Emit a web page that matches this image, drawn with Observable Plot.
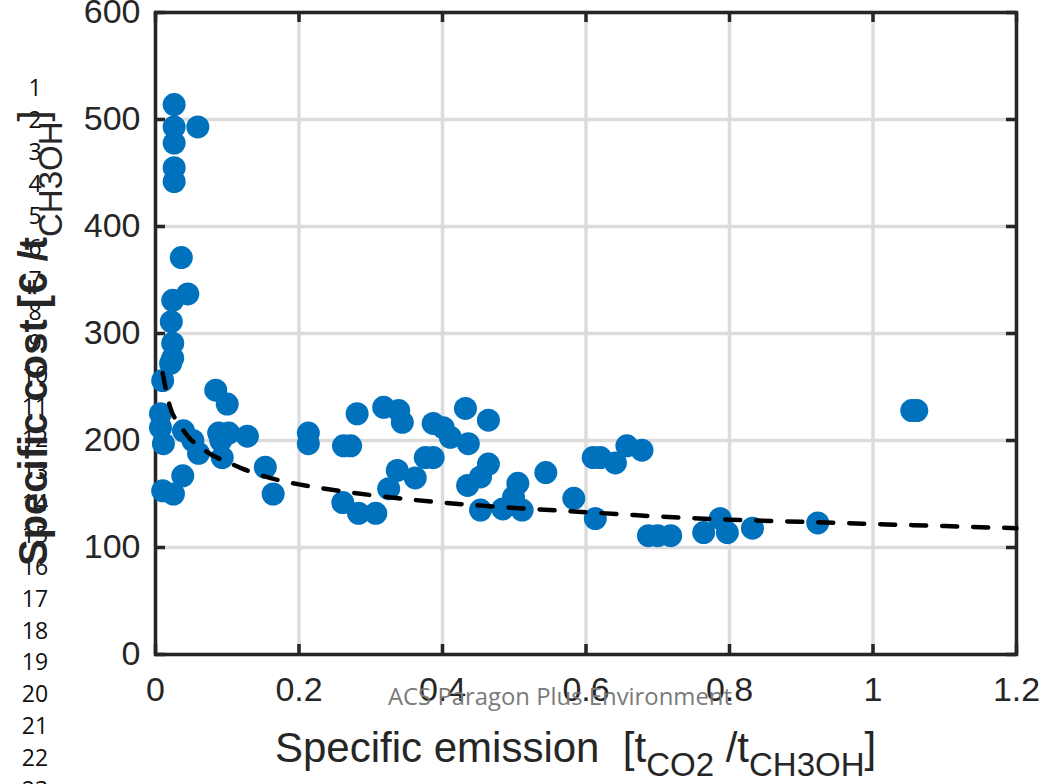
<!DOCTYPE html>
<html>
<head>
<meta charset="utf-8">
<script src="https://cdn.jsdelivr.net/npm/d3@7"></script>
<script src="https://cdn.jsdelivr.net/npm/@observablehq/plot@0.6"></script>
<style>
  html, body { margin: 0; padding: 0; background: #fff; }
  #chart { position: relative; width: 1043px; height: 784px; overflow: hidden; }
</style>
</head>
<body>
<div id="chart"></div>
<script>
// Axis ticks
const xTicks = [0, 0.2, 0.4, 0.6, 0.8, 1, 1.2];
const yTicks = [0, 100, 200, 300, 400, 500, 600];

// Process configurations: specific CO2 emission [t CO2 / t CH3OH] and specific cost [€ / t CH3OH]
const emission = [
  0.026, 0.026, 0.026, 0.026, 0.026, 0.059,
  0.036, 0.045, 0.024, 0.022, 0.024, 0.024, 0.021, 0.010,
  0.007, 0.007, 0.011, 0.039, 0.052, 0.060,
  0.084, 0.100, 0.088, 0.102, 0.091, 0.093, 0.128,
  0.153, 0.164, 0.038, 0.010, 0.025,
  0.213, 0.213, 0.281, 0.318, 0.339, 0.344, 0.262, 0.272,
  0.261, 0.283, 0.307, 0.325, 0.337, 0.362, 0.376, 0.387,
  0.387, 0.401, 0.411, 0.436, 0.432, 0.464, 0.464, 0.453,
  0.435, 0.505, 0.544, 0.453, 0.484, 0.511, 0.499,
  0.583, 0.610, 0.620, 0.641, 0.657, 0.678, 0.613,
  0.687, 0.700, 0.718, 0.764, 0.787, 0.797, 0.832, 0.923,
  1.054, 1.061
];
const cost = [
  514, 493, 478, 455, 442, 493,
  371, 337, 331, 311, 291, 277, 272, 256,
  225, 212, 197, 209, 200, 188,
  247, 234, 207, 207, 200, 184, 204,
  175, 150, 167, 153, 150,
  207, 197, 225, 231, 228, 217, 195, 195,
  142, 132, 132, 155, 172, 165, 184, 184,
  216, 212, 203, 197, 230, 219, 178, 166,
  158, 160, 170, 135, 136, 135, 147,
  146, 184, 184, 179, 195, 191, 127,
  111, 111, 111, 114, 127, 114, 118, 123,
  228, 228
];

// Fitted trend (dashed)
const trendEmission = [0.01, 0.02, 0.03, 0.045, 0.06, 0.08, 0.1, 0.12, 0.15, 0.2, 0.3, 0.4, 0.5, 0.6, 0.7, 0.8, 0.9, 1.0, 1.1, 1.2];
const trendCost     = [263, 232, 218, 204, 195, 186, 180, 174, 167, 159, 149, 142, 137, 133, 129, 126, 124, 122, 120, 118];

const points = emission.map((e, i) => ({e, c: cost[i]}));
const trend = trendEmission.map((e, i) => ({e, c: trendCost[i]}));

const axisColor = "#262626";
const gridColor = "#dcdcdc";

const W = 1043, H = 784;
const mL = 155, mR = 27, mT = 12, mB = 130;
const innerW = W - mL - mR, innerH = H - mT - mB;
const tickLen = 10;

const fmt = d => String(+d.toFixed(1));

const plot = Plot.plot({
  width: W,
  height: H,
  marginLeft: mL,
  marginRight: mR,
  marginTop: mT,
  marginBottom: mB,
  style: {fontFamily: "'Liberation Sans', Arial, sans-serif", fontSize: "33px", color: axisColor, background: "#fff", overflow: "visible"},
  x: {domain: [0, 1.2], label: null},
  y: {domain: [0, 600], label: null},
  marks: [
    Plot.gridX(xTicks, {stroke: gridColor, strokeOpacity: 1, strokeWidth: 3.5}),
    Plot.gridY(yTicks, {stroke: gridColor, strokeOpacity: 1, strokeWidth: 3.5}),
    Plot.frame({stroke: axisColor, strokeWidth: 3.5}),
    // inward ticks on all four sides
    Plot.tickX(xTicks, {x: d => d, insetTop: innerH - tickLen, stroke: axisColor, strokeWidth: 3.5}),
    Plot.tickX(xTicks, {x: d => d, insetBottom: innerH - tickLen, stroke: axisColor, strokeWidth: 3.5}),
    Plot.tickY(yTicks, {y: d => d, insetRight: innerW - tickLen, stroke: axisColor, strokeWidth: 3.5}),
    Plot.tickY(yTicks, {y: d => d, insetLeft: innerW - tickLen, stroke: axisColor, strokeWidth: 3.5}),
    Plot.axisX(xTicks, {tickSize: 0, tickPadding: 22, tickFormat: fmt, fontSize: 34, fill: axisColor, label: null}),
    Plot.axisY(yTicks, {tickSize: 0, tickPadding: 15, tickFormat: d => String(d), fontSize: 34, fill: axisColor, label: null}),
    Plot.dot(points, {x: "e", y: "c", r: 11.5, fill: "#0072bd", stroke: null}),
    Plot.line(trend, {x: "e", y: "c", curve: "natural", stroke: "#000", strokeWidth: 4.5, strokeDasharray: "15,16"})
  ]
});

document.getElementById("chart").appendChild(plot);

const svg = d3.select(plot);

// Manuscript line numbers down the left margin
const lineNumbers = d3.range(1, 24);
svg.append("g")
  .attr("font-family", "'Open Sans', 'Noto Sans', sans-serif")
  .style("font-size", "23px")
  .attr("fill", "#111")
  .attr("text-anchor", "middle")
  .selectAll("text")
  .data(lineNumbers)
  .join("text")
  .attr("x", 35)
  .attr("y", d => 88 + (d - 1) * 31.9)
  .attr("dy", "0.36em")
  .text(d => d);

// Y axis title
const yTitle = svg.append("text")
  .attr("transform", "translate(47,566) rotate(-90)")
  .attr("text-anchor", "start")
  .attr("font-family", "'Liberation Sans', Arial, sans-serif")
  .attr("fill", axisColor)
  .style("font-size", "40px");
yTitle.append("tspan").attr("font-weight", "bold").text("Specific cost [€ /t");
yTitle.append("tspan").style("font-size", "33px").attr("dy", 15).text("CH3OH");
yTitle.append("tspan").attr("dy", -15).text("]");

// X axis title
const xTitle = svg.append("text")
  .attr("x", 275)
  .attr("y", 762)
  .attr("text-anchor", "start")
  .attr("font-family", "'Liberation Sans', Arial, sans-serif")
  .attr("fill", axisColor)
  .style("font-size", "42px");
xTitle.append("tspan").text("Specific emission  [t");
xTitle.append("tspan").style("font-size", "33px").attr("dy", 14).text("CO2");
xTitle.append("tspan").attr("dy", -14).text(" /t");
xTitle.append("tspan").style("font-size", "33px").attr("dy", 14).text("CH3OH");
xTitle.append("tspan").attr("dy", -14).text("]");

// Page watermark
svg.append("text")
  .attr("x", 560)
  .attr("y", 705)
  .attr("text-anchor", "middle")
  .attr("font-family", "'Open Sans', 'Noto Sans', sans-serif")
  .style("font-size", "24px")
  .attr("fill", "#7a7a7a")
  .attr("textLength", 344)
  .attr("lengthAdjust", "spacingAndGlyphs")
  .text("ACS Paragon Plus Environment");
</script>
</body>
</html>
